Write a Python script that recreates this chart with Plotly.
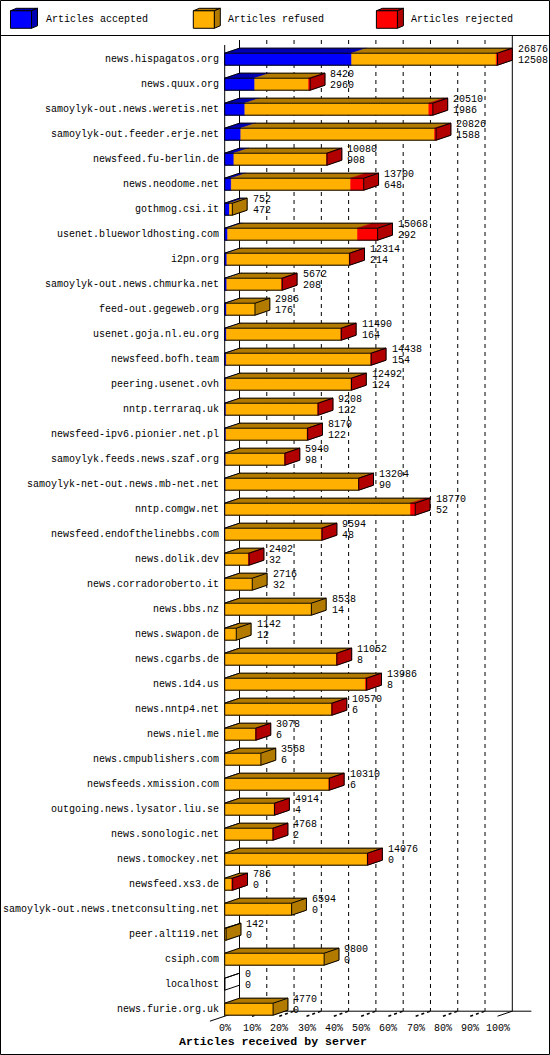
import plotly.graph_objects as go

# ---------------- data ----------------
servers = [
    "news.hispagatos.org", "news.quux.org", "samoylyk-out.news.weretis.net",
    "samoylyk-out.feeder.erje.net", "newsfeed.fu-berlin.de", "news.neodome.net",
    "gothmog.csi.it", "usenet.blueworldhosting.com", "i2pn.org",
    "samoylyk-out.news.chmurka.net", "feed-out.gegeweb.org", "usenet.goja.nl.eu.org",
    "newsfeed.bofh.team", "peering.usenet.ovh", "nntp.terraraq.uk",
    "newsfeed-ipv6.pionier.net.pl", "samoylyk.feeds.news.szaf.org",
    "samoylyk-net-out.news.mb-net.net", "nntp.comgw.net", "newsfeed.endofthelinebbs.com",
    "news.dolik.dev", "news.corradoroberto.it", "news.bbs.nz", "news.swapon.de",
    "news.cgarbs.de", "news.1d4.us", "news.nntp4.net", "news.niel.me",
    "news.cmpublishers.com", "newsfeeds.xmission.com", "outgoing.news.lysator.liu.se",
    "news.sonologic.net", "news.tomockey.net", "newsfeed.xs3.de",
    "samoylyk-out.news.tnetconsulting.net", "peer.alt119.net", "csiph.com",
    "localhost", "news.furie.org.uk",
]
totals = [26876, 8420, 20510, 20826, 10080, 13700, 752, 15068, 12314, 5672,
          2986, 11490, 14438, 12492, 9208, 8170, 5940, 13204, 18770, 9594,
          2402, 2716, 8538, 1142, 11052, 13986, 10570, 3078, 3568, 10310,
          4914, 4768, 14076, 786, 6594, 142, 9800, 0, 4770]
accepted = [12508, 2960, 1986, 1588, 908, 648, 472, 292, 214, 208,
            176, 164, 154, 124, 122, 122, 98, 90, 52, 48,
            32, 32, 14, 12, 8, 8, 6, 6, 6, 6,
            4, 2, 0, 0, 0, 0, 0, 0, 0]
refused = [14248, 5310, 18124, 19088, 9142, 11762, 280, 12796, 12070, 5404,
           2810, 11296, 14244, 12338, 9056, 8018, 5822, 13094, 18258, 9486,
           2310, 2684, 8524, 1130, 11024, 13858, 10544, 3052, 3562, 10284,
           4890, 4746, 14056, 686, 6594, 142, 9800, 0, 4770]
rejected = [120, 150, 400, 150, 30, 1290, 0, 1980, 30, 60,
            0, 30, 40, 30, 30, 30, 20, 20, 460, 60,
            60, 0, 0, 0, 20, 120, 20, 20, 0, 20,
            20, 20, 20, 100, 0, 0, 0, 0, 0]
series_names = ["Articles accepted", "Articles refused", "Articles rejected"]
x_ticks = [0, 10, 20, 30, 40, 50, 60, 70, 80, 90, 100]
x_tick_labels = ["0%", "10%", "20%", "30%", "40%", "50%", "60%", "70%", "80%", "90%", "100%"]
x_title = "Articles received by server"

# ---------------- style ----------------
W, H = 550, 1055
FRONT = ["#0000FF", "#FFB000", "#FF0000"]
DARK = ["#0000B2", "#B27B00", "#B20000"]
FONT = "Liberation Mono"

PX_X = 2.728          # pixels per percent
PX_Y = 25.0           # pixels per category
X0_PX = 224.7         # pixel of 0 %
Y0_PX = 59.2          # pixel of first category centre
DX = 14.8 / PX_X      # 3D depth (x)
DY = 5.0 / PX_Y       # 3D depth (y)
HH = 6.0 / PX_Y       # half bar height

xr = [-X0_PX / PX_X, (W - X0_PX) / PX_X]
yr = [(H - Y0_PX) / PX_Y, -Y0_PX / PX_Y]

n = len(servers)
scale_max = max(totals)
def pct(v):
    return v / scale_max * 100.0

series = [accepted, refused, rejected]

front_paths = [([], []) for _ in range(3)]
top_paths = [([], []) for _ in range(3)]
side_paths = [([], []) for _ in range(3)]
outline_x, outline_y = [], []

def add(path, xs, ys):
    path[0].extend(xs + [None])
    path[1].extend(ys + [None])

for i in range(n):
    yt, yb = i - HH, i + HH
    start = 0.0
    last = None
    for s in range(3):
        v = series[s][i]
        if v <= 0:
            continue
        xa = start
        xb = start + pct(v)
        add(front_paths[s], [xa, xa, xb, xb, xa], [yb, yt, yt, yb, yb])
        add(top_paths[s], [xa, xa + DX, xb + DX, xb, xa], [yt, yt - DY, yt - DY, yt, yt])
        start = xb
        last = s
    xe = start
    if last is not None:
        add(side_paths[last], [xe, xe + DX, xe + DX, xe, xe],
            [yt, yt - DY, yb - DY, yb, yt])
    outline_x.extend([0, 0, xe, xe, 0, None,
                      0, DX, xe + DX, xe + DX, xe, None,
                      xe, xe + DX, None])
    outline_y.extend([yb, yt, yt, yb, yb, None,
                      yt, yt - DY, yt - DY, yb - DY, yb, None,
                      yt, yt - DY, None])

fig = go.Figure()
for s in range(3):
    for path, col in ((top_paths[s], DARK[s]), (side_paths[s], DARK[s]), (front_paths[s], FRONT[s])):
        fig.add_trace(go.Scatter(x=path[0], y=path[1], mode="lines", fill="toself",
                                 fillcolor=col, line=dict(width=0.6, color=col),
                                 hoverinfo="skip", showlegend=False))
fig.add_trace(go.Scatter(x=outline_x, y=outline_y, mode="lines",
                         line=dict(width=1, color="black"),
                         hoverinfo="skip", showlegend=False))

# ---------------- walls, grid, floor ----------------
top_front = (45 - Y0_PX) / PX_Y
top_back = top_front - DY
floor_front = (n - 1) + HH + 1.0 / PX_Y
floor_back = floor_front - DY
top_right = (36 - Y0_PX) / PX_Y

shapes = []
def line(x0, y0, x1, y1, dash="solid", width=1):
    shapes.append(dict(type="line", xref="x", yref="y", x0=x0, y0=y0, x1=x1, y1=y1,
                       line=dict(color="black", width=width, dash=dash), layer="below"))

line(0, top_front, 0, floor_front)
line(DX, top_back, DX, floor_back)
line(100 + DX, top_right, 100 + DX, floor_back)
for t in x_ticks[1:-1]:
    line(t + DX, top_back, t + DX, floor_back, dash="4px,4px")
for t in x_ticks[1:-1]:
    line(t, floor_front, t + DX, floor_back, dash="3px,3px", width=1.5)
line(100, floor_front, 100 + DX, floor_back)
line(DX, floor_back, -DX, floor_front + DY)
line(DX, floor_back, 107 + DX, floor_back)

# ---------------- frame & legend ----------------
def px(xp):
    return xp / W
def py(yp):
    return 1 - yp / H

shapes.append(dict(type="rect", xref="paper", yref="paper",
                   x0=px(0.5), y0=py(0.5), x1=px(549.5), y1=py(1054.5),
                   line=dict(color="black", width=1)))
shapes.append(dict(type="line", xref="paper", yref="paper",
                   x0=0, y0=py(35.5), x1=1, y1=py(35.5),
                   line=dict(color="black", width=1)))

annotations = []
legend_x = [10.5, 193.3, 376.4]
for s in range(3):
    x0 = legend_x[s]
    x1 = x0 + 21
    yt_, yb_ = 10.8, 28.3
    ddx, ddy = 6, 2.5
    def pth(pts):
        return "M " + " L ".join(f"{px(a):.5f},{py(b):.5f}" for a, b in pts) + " Z"
    shapes.append(dict(type="path", xref="paper", yref="paper",
                       path=pth([(x0, yt_), (x0 + ddx, yt_ - ddy), (x1 + ddx, yt_ - ddy), (x1, yt_)]),
                       fillcolor=DARK[s], line=dict(color="black", width=1)))
    shapes.append(dict(type="path", xref="paper", yref="paper",
                       path=pth([(x1, yt_), (x1 + ddx, yt_ - ddy), (x1 + ddx, yb_ - ddy), (x1, yb_)]),
                       fillcolor=DARK[s], line=dict(color="black", width=1)))
    shapes.append(dict(type="path", xref="paper", yref="paper",
                       path=pth([(x0, yt_), (x1, yt_), (x1, yb_), (x0, yb_)]),
                       fillcolor=FRONT[s], line=dict(color="black", width=1)))
    annotations.append(dict(xref="paper", yref="paper", x=px(x1 + ddx + 6), y=py(20),
                            text=series_names[s], showarrow=False, xanchor="left",
                            yanchor="middle", font=dict(family=FONT, size=10, color="black")))

# ---------------- labels ----------------
lab_font = dict(family=FONT, size=10, color="black")
for i in range(n):
    annotations.append(dict(x=-4.0 / PX_X, y=i, xref="x", yref="y", text=servers[i],
                            showarrow=False, xanchor="right", yanchor="middle", font=lab_font))
    xe = pct(accepted[i] + refused[i] + rejected[i]) + DX + 3.5 / PX_X
    annotations.append(dict(x=xe, y=i - 9.5 / PX_Y, xref="x", yref="y", text=str(totals[i]),
                            showarrow=False, xanchor="left", yanchor="middle", font=lab_font))
    annotations.append(dict(x=xe, y=i + 1.5 / PX_Y, xref="x", yref="y", text=str(accepted[i]),
                            showarrow=False, xanchor="left", yanchor="middle", font=lab_font))

tick_y = (1028.3 - Y0_PX) / PX_Y
for t, lab in zip(x_ticks, x_tick_labels):
    annotations.append(dict(x=t, y=tick_y, xref="x", yref="y", text=lab, showarrow=False,
                            xanchor="center", yanchor="middle", font=lab_font))
annotations.append(dict(xref="paper", yref="paper", x=px(272.5), y=py(1041.5),
                        text="<b>" + x_title + "</b>", showarrow=False,
                        xanchor="center", yanchor="middle",
                        font=dict(family=FONT, size=11.6, color="black")))

fig.update_layout(
    width=W, height=H, margin=dict(l=0, r=0, t=0, b=0),
    paper_bgcolor="white", plot_bgcolor="white",
    xaxis=dict(range=xr, visible=False, fixedrange=True),
    yaxis=dict(range=yr, visible=False, fixedrange=True),
    shapes=shapes, annotations=annotations, showlegend=False,
)
fig.write_html("out.html", config={"displayModeBar": False},
               post_script="document.body.style.margin='0px';document.body.style.overflow='hidden';")
